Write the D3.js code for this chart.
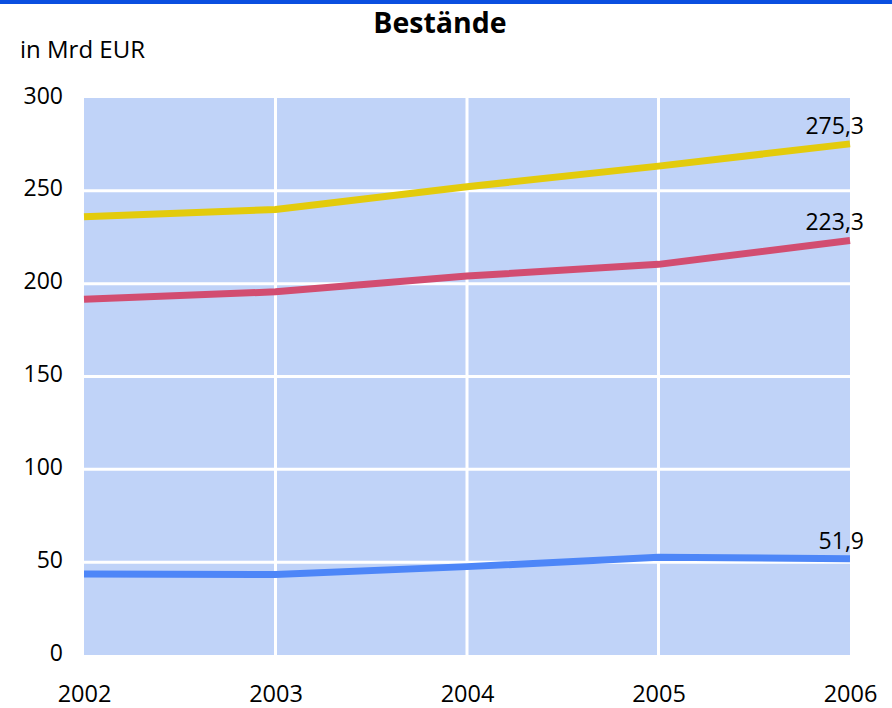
<!DOCTYPE html>
<html>
<head>
<meta charset="utf-8">
<script src="https://cdn.jsdelivr.net/npm/d3@7"></script>
<style>
body { margin: 0; background: #fff; }
text { font-family: "Open Sans", "Noto Sans", sans-serif; fill: #000; }
</style>
</head>
<body>
<div id="chart"></div>
<script>
// Daten
var years = [2002, 2003, 2004, 2005, 2006];
var yellowValues = [236.0, 240.0, 252.2, 263.3, 275.3];
var redValues = [191.6, 195.6, 204.1, 210.4, 223.3];
var blueValues = [43.6, 43.4, 47.6, 52.6, 51.9];
var endLabels = ["275,3", "223,3", "51,9"];
var yTicks = [0, 50, 100, 150, 200, 250, 300];

var width = 892, height = 708;
var margin = {top: 98, right: 42, bottom: 53, left: 84};

var svg = d3.select("#chart")
    .append("svg")
    .attr("width", width)
    .attr("height", height);

// blue bar on top
svg.append("rect")
    .attr("x", 0).attr("y", 0)
    .attr("width", width).attr("height", 4)
    .attr("fill", "#0a4fe0");

var x = d3.scalePoint()
    .domain(years)
    .range([margin.left, width - margin.right]);

var y = d3.scaleLinear()
    .domain([0, 300])
    .range([height - margin.bottom, margin.top]);

// plot background
svg.append("rect")
    .attr("x", x(2002))
    .attr("y", y(300))
    .attr("width", x(2006) - x(2002))
    .attr("height", y(0) - y(300))
    .attr("fill", "#c0d3f8");

// grid
svg.append("g")
    .selectAll("line")
    .data(yTicks.filter(d => d > 0 && d < 300))
    .enter()
    .append("line")
    .attr("x1", x(2002)).attr("x2", x(2006))
    .attr("y1", d => y(d)).attr("y2", d => y(d))
    .attr("stroke", "#fff")
    .attr("stroke-width", 3);

svg.append("g")
    .selectAll("line")
    .data(years.slice(1, 4))
    .enter()
    .append("line")
    .attr("x1", d => x(d)).attr("x2", d => x(d))
    .attr("y1", y(0)).attr("y2", y(300))
    .attr("stroke", "#fff")
    .attr("stroke-width", 3);

// axes (labels only)
var yAxis = svg.append("g")
    .attr("transform", `translate(${margin.left - 21},0)`)
    .call(d3.axisLeft(y).tickValues(yTicks).tickSize(0).tickPadding(0));
yAxis.select(".domain").remove();
yAxis.selectAll("text").style("font-size", "23px").attr("dy", "0.22em");

var xAxis = svg.append("g")
    .attr("transform", `translate(0,${height - margin.bottom})`)
    .call(d3.axisBottom(x).tickFormat(d3.format("d")).tickSize(0).tickPadding(30));
xAxis.select(".domain").remove();
xAxis.selectAll("text").style("font-size", "23.5px");

// lines
var line = d3.line()
    .x((d, i) => x(years[i]))
    .y(d => y(d));

var series = [
    {values: yellowValues, color: "#e3cb0c", label: endLabels[0]},
    {values: redValues, color: "#d24d71", label: endLabels[1]},
    {values: blueValues, color: "#4d86f8", label: endLabels[2]}
];

series.forEach(function(s) {
    svg.append("path")
        .datum(s.values)
        .attr("d", line)
        .attr("fill", "none")
        .attr("stroke", s.color)
        .attr("stroke-width", 7);

    svg.append("text")
        .attr("x", x(2006) + 14)
        .attr("y", y(s.values[4]) - 10)
        .attr("text-anchor", "end")
        .style("font-size", "23px")
        .text(s.label);
});

// titles
svg.append("text")
    .attr("x", 440)
    .attr("y", 33)
    .attr("text-anchor", "middle")
    .style("font-size", "28.5px")
    .style("font-weight", "bold")
    .text("Bestände");

svg.append("text")
    .attr("x", 20)
    .attr("y", 58)
    .style("font-size", "24px")
    .text("in Mrd EUR");
</script>
</body>
</html>
